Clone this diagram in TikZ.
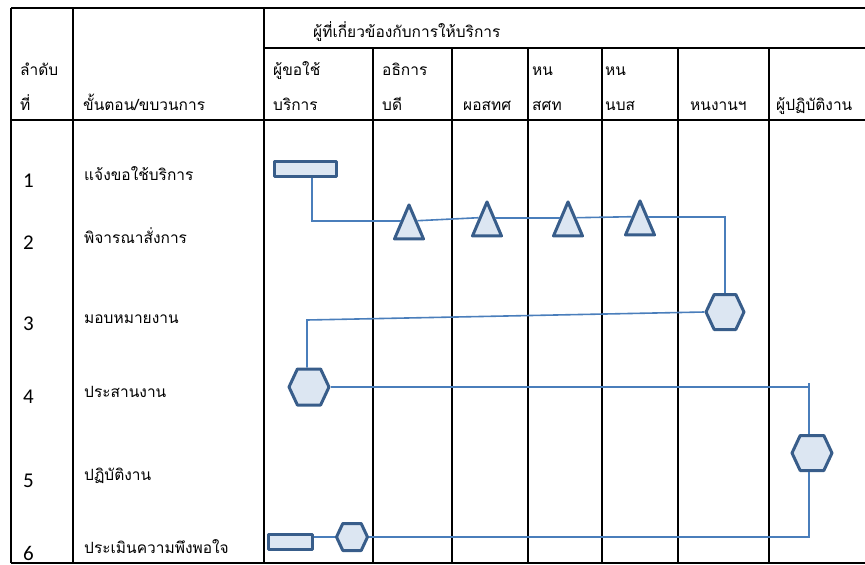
\documentclass[tikz,border=0pt]{standalone}
\usepackage{fontspec}
\usepackage{tikz}
\usetikzlibrary{shapes.geometric,shapes.symbols}
\newfontfamily\thaifont[Script=Thai]{Loma}
\newfontfamily\numfont{Carlito}
\definecolor{boxfill}{HTML}{DCE6F2}
\definecolor{boxline}{HTML}{385D8A}
\definecolor{flowline}{HTML}{4A7EBB}

\begin{document}
\begin{tikzpicture}[x=1pt,y=-1pt,
  grid/.style={line width=1.5pt},
  txt/.style={anchor=base west,inner sep=0pt,font=\thaifont\fontsize{15.5}{18}\selectfont},
  num/.style={anchor=base west,inner sep=0pt,font=\numfont\fontsize{21}{24}\selectfont},
  sym/.style={draw=boxline,fill=boxfill,line width=3pt,line join=round,inner sep=0pt},
  bar/.style={sym,rectangle,minimum width=62pt,minimum height=15pt},
  tri/.style={sym,isosceles triangle,isosceles triangle stretches,shape border rotate=90,minimum width=29pt,minimum height=34pt,anchor=apex},
  hexa/.style={sym,signal,signal to=west and east,signal pointer angle=130,minimum width=38pt,minimum height=35pt},
  flow/.style={draw=flowline,line width=1.6pt}]
  \useasboundingbox (0,0) rectangle (865,565);

  % table
  \draw[grid] (11,8) -- (865,8); \draw[grid] (264,48) -- (865,48);
  \draw[grid] (11,120) -- (865,120); \draw[grid] (11,563) -- (865,563);
  \foreach \x in {11,73,264} \draw[grid] (\x,8) -- (\x,563);
  \foreach \x in {373,452,528,602,678,769} \draw[grid] (\x,48) -- (\x,563);

  % header
  \node[txt] (hall) at (313,37) {ผู้ที่เกี่ยวข้องกับการให้บริการ};
  \node[txt] (hno) at (20,75) {ลำดับ}; \node[txt] (hno2) at (20,110) {ที่};
  \node[txt] (hstep) at (83,110) {ขั้นตอน/ขบวนการ};
  \node[txt] (ha) at (273,75) {ผู้ขอใช้}; \node[txt] (ha2) at (273,110) {บริการ};
  \node[txt] (hb) at (382,75) {อธิการ}; \node[txt] (hb2) at (382,110) {บดี};
  \node[txt] (hc) at (463,110) {ผอสทศ};
  \node[txt] (hd) at (532,75) {หน}; \node[txt] (hd2) at (532,110) {สศท};
  \node[txt] (he) at (605,75) {หน}; \node[txt] (he2) at (605,110) {นบส};
  \node[txt] (hf) at (690,110) {หนงานฯ};
  \node[txt] (hg) at (776,110) {ผู้ปฏิบัติงาน};

  % rows
  \foreach \n/\yn/\yt/\t in {1/187/180/แจ้งขอใช้บริการ,2/249/243/พิจารณาสั่งการ,3/330/323/มอบหมายงาน,
      4/403/397/ประสานงาน,5/487/480/ปฏิบัติงาน,6/560/553/ประเมินความพึงพอใจ}{
    \node[num] (n\n) at (23,\yn) {\n};
    \node[txt] (s\n) at (84,\yt) {\t};
  }

  % symbols
  \node[bar] (R1) at (305.5,169) {};
  \node[tri] (T1) at (409,201) {}; \node[tri] (T2) at (487,198) {};
  \node[tri] (T3) at (568,198) {}; \node[tri] (T4) at (640,197) {};
  \node[hexa] (H3) at (725,312) {};
  \node[hexa,minimum width=40pt,minimum height=36pt] (H4) at (309,387) {};
  \node[hexa,minimum width=40pt] (H5) at (812,453) {};
  \node[hexa,minimum width=31pt,minimum height=27pt] (H6) at (352,537) {};
  \node[bar,minimum width=44pt] (R6) at (290.5,542) {};

  % flow
  \coordinate (K1) at (312,178); \coordinate (K3) at (307,320); \coordinate (K5) at (809,383);
  \draw[flow] (K1) |- (T1.left side);
  \draw[flow] (T1.right side) -- (T2.left side); \draw[flow] (T2.right side) -- (T3.left side);
  \draw[flow] (T3.right side) -- (T4.left side); \draw[flow] (T4.right side) -| (H3.north);
  \draw[flow] (H3.west) -- (K3) -- (K3 |- H4.north);
  \draw[flow] (H4.east) -- (H4.east -| K5); \draw[flow] (K5) -- (K5 |- H5.north);
  \draw[flow] (K5 |- H5.south) |- (H6.east);
  \draw[flow] (R6.east |- H6.west) -- (H6.west);
\end{tikzpicture}
\end{document}
